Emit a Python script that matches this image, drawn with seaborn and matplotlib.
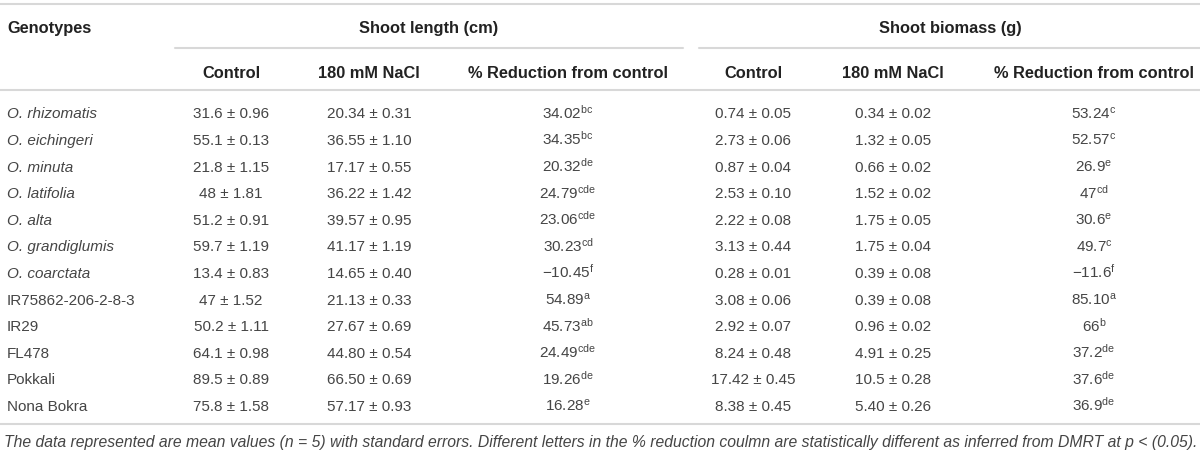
import matplotlib
matplotlib.use("Agg")
import matplotlib.pyplot as plt
import seaborn as sns

# table values
genotypes = ["O. rhizomatis", "O. eichingeri", "O. minuta", "O. latifolia", "O. alta",
             "O. grandiglumis", "O. coarctata", "IR75862-206-2-8-3", "IR29", "FL478",
             "Pokkali", "Nona Bokra"]
is_wild = [True] * 7 + [False] * 5

sl_control = ["31.6", "55.1", "21.8", "48", "51.2", "59.7", "13.4", "47", "50.2", "64.1", "89.5", "75.8"]
sl_control_se = ["0.96", "0.13", "1.15", "1.81", "0.91", "1.19", "0.83", "1.52", "1.11", "0.98", "0.89", "1.58"]
sl_nacl = ["20.34", "36.55", "17.17", "36.22", "39.57", "41.17", "14.65", "21.13", "27.67", "44.80", "66.50", "57.17"]
sl_nacl_se = ["0.31", "1.10", "0.55", "1.42", "0.95", "1.19", "0.40", "0.33", "0.69", "0.54", "0.69", "0.93"]
sl_reduction = ["34.02", "34.35", "20.32", "24.79", "23.06", "30.23", "\u221210.45", "54.89", "45.73", "24.49", "19.26", "16.28"]
sl_letters = ["bc", "bc", "de", "cde", "cde", "cd", "f", "a", "ab", "cde", "de", "e"]

bm_control = ["0.74", "2.73", "0.87", "2.53", "2.22", "3.13", "0.28", "3.08", "2.92", "8.24", "17.42", "8.38"]
bm_control_se = ["0.05", "0.06", "0.04", "0.10", "0.08", "0.44", "0.01", "0.06", "0.07", "0.48", "0.45", "0.45"]
bm_nacl = ["0.34", "1.32", "0.66", "1.52", "1.75", "1.75", "0.39", "0.39", "0.96", "4.91", "10.5", "5.40"]
bm_nacl_se = ["0.02", "0.05", "0.02", "0.02", "0.05", "0.04", "0.08", "0.08", "0.02", "0.25", "0.28", "0.26"]
bm_reduction = ["53.24", "52.57", "26.9", "47", "30.6", "49.7", "\u221211.6", "85.10", "66", "37.2", "37.6", "36.9"]
bm_letters = ["c", "c", "e", "cd", "e", "c", "f", "a", "b", "de", "de", "de"]

group_headers = ["Shoot length (cm)", "Shoot biomass (g)"]
sub_headers = ["Control", "180 mM NaCl", "% Reduction from control"]
footnote = ("The data represented are mean values (n = 5) with standard errors. Different letters "
            "in the % reduction coulmn are statistically different as inferred from DMRT at p < (0.05).")

sns.set_theme(style="white")
plt.rcParams["font.family"] = ["Liberation Sans", "DejaVu Sans"]
plt.rcParams["mathtext.fontset"] = "custom"
plt.rcParams["mathtext.rm"] = "Liberation Sans"
plt.rcParams["mathtext.it"] = "Liberation Sans:italic"

fig = plt.figure(figsize=(12, 4.56), dpi=100)
ax = fig.add_axes([0, 0, 1, 1])
ax.set_xlim(0, 1200)
ax.set_ylim(456, 0)
ax.axis("off")

head_col = "#222222"
text_col = "#454545"
line_col = "#d8d8d8"
fs = 11
fs_head = 11.8
base = 5.5  # row centre -> text baseline

col_x = [231, 369, 568, 753, 893, 1094]
group_x = [429, 950]
row_y0, row_dy = 113, 26.6

# rules
ax.plot([0, 1200], [5, 5], color=line_col, lw=1.5)
ax.plot([175, 683], [49, 49], color=line_col, lw=1.5)
ax.plot([699, 1200], [49, 49], color=line_col, lw=1.5)
ax.plot([0, 1200], [91, 91], color=line_col, lw=1.5)
ax.plot([0, 1200], [425, 425], color=line_col, lw=1.5)

# headers
ax.text(7, 27 + base, "Genotypes", ha="left", va="baseline", fontsize=fs_head,
        fontweight="bold", color=head_col)
for gx, g in zip(group_x, group_headers):
    ax.text(gx, 27 + base, g, ha="center", va="baseline", fontsize=fs_head,
            fontweight="bold", color=head_col)
for i, x in enumerate(col_x):
    ax.text(x, 72 + base, sub_headers[i % 3], ha="center", va="baseline", fontsize=fs_head,
            fontweight="bold", color=head_col)

# body
for r, name in enumerate(genotypes):
    y = row_y0 + r * row_dy + base
    ax.text(7, y, name, ha="left", va="baseline", fontsize=fs, color=text_col,
            fontstyle="italic" if is_wild[r] else "normal")
    cells = [
        f"{sl_control[r]} \u00b1 {sl_control_se[r]}",
        f"{sl_nacl[r]} \u00b1 {sl_nacl_se[r]}",
        sl_reduction[r] + r"$^{\mathrm{" + sl_letters[r] + "}}$",
        f"{bm_control[r]} \u00b1 {bm_control_se[r]}",
        f"{bm_nacl[r]} \u00b1 {bm_nacl_se[r]}",
        bm_reduction[r] + r"$^{\mathrm{" + bm_letters[r] + "}}$",
    ]
    for x, c in zip(col_x, cells):
        ax.text(x, y, c, ha="center", va="baseline", fontsize=fs, color=text_col)

ax.text(4, 447.5, footnote, ha="left", va="baseline", fontsize=11.3,
        fontstyle="italic", color=text_col)

fig.savefig("out.png", dpi=100)
